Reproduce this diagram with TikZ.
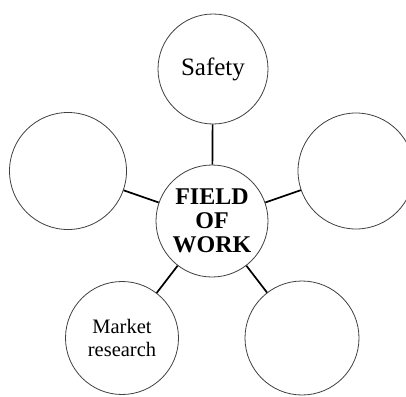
\documentclass[tikz,border=0pt]{standalone}
\usepackage{fontspec}
\setmainfont{Liberation Serif}
\begin{document}
\begin{tikzpicture}[x=1pt,y=-1pt,
  bubble/.style={circle,draw=black!75,line width=0.8pt,fill=white,inner sep=0pt,minimum size=114pt,align=center},
  link/.style={draw=black,line width=1.7pt}]
\useasboundingbox (0,0) rectangle (406,396);
\node[bubble,minimum size=112pt,font=\fontsize{24}{24}\selectfont\bfseries] (c) at (212,221) {FIELD\\OF\\WORK};
\node[bubble,minimum size=110pt,font=\fontsize{25}{28}\selectfont] (t) at (213,69) {Safety};
\node[bubble,minimum size=117pt] (l) at (68,171) {};
\node[bubble,minimum size=116pt] (r) at (356,171) {};
\node[bubble,minimum size=113pt,font=\fontsize{20.5}{22.5}\selectfont] (bl) at (122,338) {Market\\research};
\node[bubble,minimum size=114pt] (br) at (302,338) {};
\draw[link] (c) -- (t);
\draw[link] (c) -- (l);
\draw[link] (c) -- (r);
\draw[link] (c) -- (bl);
\draw[link] (c) -- (br);
\end{tikzpicture}
\end{document}
